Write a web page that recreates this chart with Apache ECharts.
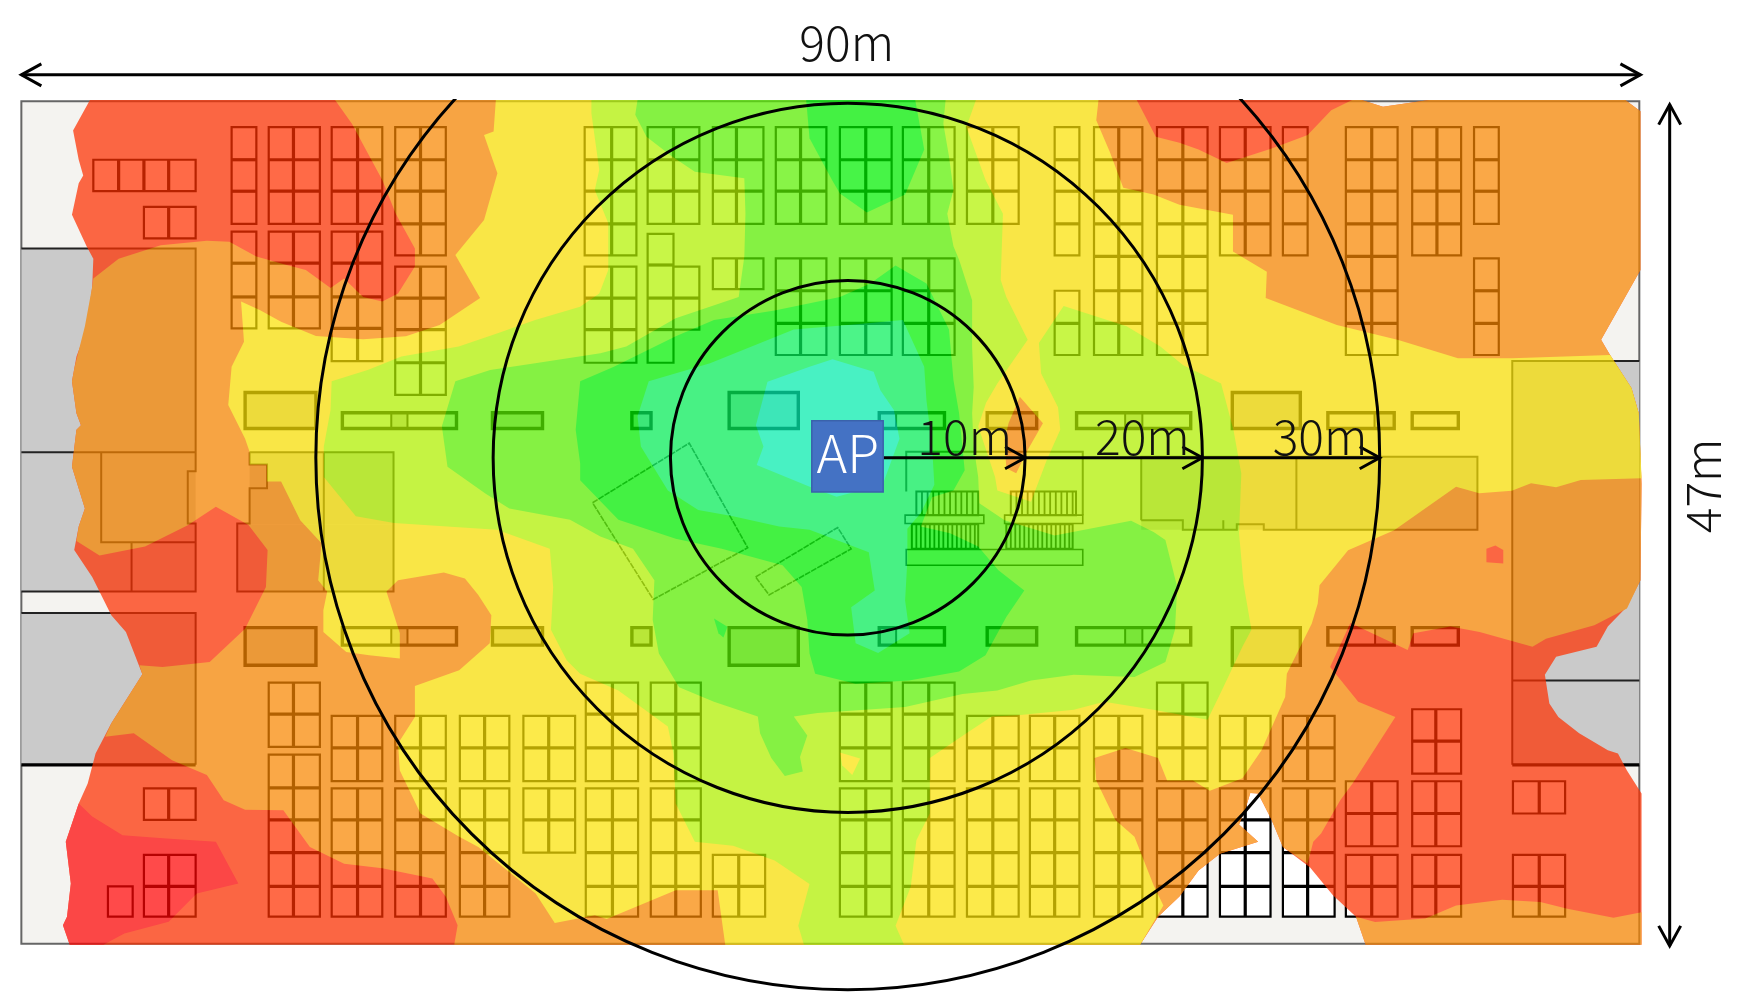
<!DOCTYPE html>
<html><head><meta charset="utf-8">
<style>
html,body{margin:0;padding:0;background:#fff}
#c{width:1763px;height:992px}
/* the whole survey heat map is one layer, seen through at 72% over the floor plan */
canvas[data-zr-dom-id="zr_1"]{opacity:.72}
</style>
<script src="https://cdn.jsdelivr.net/npm/echarts@6/dist/echarts.min.js"></script>
</head><body><div id="c"></div>
<script>
// All positions are plan units on the two hidden value axes (about 15.8 units = 1 m).
const apPoint = [754, 407];
const unitsPerMetre = 15.77;
const ringMetres = [10, 20, 30];

// ---- signal contours ----
const heatHull = [[80,89],[65,116],[70,142],[74,156],[70,163],[64,191],[77,219],[83,230],[82,255],[77,293],[68,317],[64,339],[68,367.5],[72,378],[68,382],[64,415],[75.5,452],[70,468],[66,489],[82,513],[99,547],[112,562],[126.6,599.4],[99,643],[85,670],[78,696.6],[70,714.5],[58.5,748.5],[63,785.6],[59.6,815],[56,822.6],[62,840],[1014,840],[1030,815],[1049,797],[1066,774],[1085,759],[1119,748.5],[1102,733],[1107.5,720],[1112,705],[1119,705.5],[1131,729],[1141,753],[1165,771],[1185.5,796],[1206,815],[1214.6,840],[1460,840],[1460,705.6],[1447,685],[1439,670],[1430,667],[1404.5,652],[1386,637.4],[1378,625.5],[1374,600],[1384,584],[1420,575],[1430,557],[1447,539.5],[1459,516],[1460,430],[1457.5,367.5],[1451,345],[1432,315.6],[1424,302],[1459,240],[1459,99],[1445.5,89],[1271,89],[1230,95],[1211,89]];
const heatDeepRed = [[70,714.5],[82,726],[109,742.6],[148,745.6],[192,748.5],[212,785.6],[175,794.5],[150,819.6],[110.6,830],[92,840],[62,840],[56,822.6],[59.6,815],[63,785.6],[58.5,748.5]];
const heatOrange = [[298,89],[313,110],[327,136],[340,160],[352,190],[369,221],[369,237],[354,261],[340,268],[323,264],[306,247.5],[294,256],[272,240],[255,235.6],[228,228],[204,215],[184,214],[143,218],[105.5,230],[83,247.5],[82,255],[75.5,290],[66.4,326],[64,339],[68,367.5],[72,378],[68,382],[64,415],[75.5,452],[70,468],[68,481],[88.5,494],[129,486],[167,467],[192,450.5],[221,466.7],[238,489],[236.5,522],[218,559],[186.5,588.5],[144.6,593],[124,591.5],[126.6,599.4],[99,643],[93.6,655],[119,652],[153,676],[184,689],[199,711.5],[218,720],[252,720.4],[275.6,753],[306,768],[340,772],[384.5,781],[396.5,797.4],[407,822.6],[404,840],[1014,840],[1030,815],[1049,797],[1066,774],[1085,759],[1119,748.5],[1102,733],[1107.5,720],[1112,705],[1119,705.5],[1131,729],[1141,753],[1163,768],[1168,748.5],[1175,741],[1192,711.5],[1203,696.6],[1241,637.4],[1208,624],[1183,593],[1201,554],[1252,578],[1257,563],[1290,557],[1316,562],[1363,575],[1375,568],[1418,556],[1447,541],[1459,516],[1460,430],[1457.5,367.5],[1451,345],[1432,315.6],[1424,302],[1459,240],[1459,99],[1445.5,89],[1271,89],[1230,95],[1211,89],[1202.6,89],[1184,98],[1163,120],[1131,132],[1091,145],[1066,133],[1049,127],[1028,121.5],[1011,89]];
const heatOrangeStrip = [[1206,815],[1223,819.7],[1267.6,816.7],[1295,805],[1336,800],[1370,802],[1394,808],[1435,816],[1460,811],[1460,840],[1214.6,840]];
const heatRedSpot = [[1322,488],[1330,485],[1337,489],[1337,501],[1322,500]];
const heatYellow = [[441,89],[439,117],[430.5,120],[442.4,154],[430.5,195.6],[405,226.7],[427,265],[391,289],[361,299],[323,301.7],[281,298.7],[250,286],[231,275.6],[214.4,268],[217,303.8],[206,326],[203,360],[218,390],[222,401.6],[222,413],[237.5,413],[237.5,428],[250,428],[267,462.5],[286,483],[283,516],[291,526],[287.6,542.5],[287.6,561.8],[308,579.6],[328.4,582.5],[355.6,585.5],[355.6,563],[343.7,526],[354,516],[394.7,509],[413.5,514.4],[425.4,529],[437,547],[435.6,572],[408.4,596],[369,610],[369,637.4],[354,661],[355.6,685],[374,723.3],[408.4,744],[425.4,753],[476.4,794.5],[493.4,820.6],[529,813.7],[539.6,817],[601,791.5],[638.3,791.5],[645,840],[1014,840],[1034.7,805],[1026,787],[1009,744],[992,729],[975,694],[973.5,674],[1001,665],[1030,674],[1038,694],[1061,694],[1076,703],[1105,692],[1122,667],[1143,619.6],[1144.5,599],[1166.7,554.4],[1172,536.6],[1173.6,520.3],[1199,489.2],[1240,471.4],[1295,432.7],[1315.6,438.6],[1344.6,436.3],[1361.7,429.7],[1384,433.3],[1406,426.8],[1460,425.3],[1457.5,367.5],[1451,345],[1432,315.6],[1344.6,318.6],[1296.7,318.6],[1243.7,302.3],[1189,289],[1125.7,265],[1126.7,241.5],[1096.6,223.7],[1096.6,191],[1049,182],[1026,173],[999,167],[987,135],[975,107],[977,89]];
const heatOrangeLobe = [[907,352.7],[927.6,376.4],[914,400],[903.8,420.8],[895,416.4],[893.5,391],[897,376.4]];
const heatYellowGreen = [[526,89],[526,101],[533,151],[529,169],[541,198.5],[541,240],[533,261],[516,272.7],[476,284.5],[442,296.4],[408,308],[357,317],[327,329],[295,339],[294,364.5],[288,397],[288,424],[316.5,459],[350.5,465],[442,471],[489,488],[492,522],[490,560],[504,587],[516,599],[550,614],[594,646],[599,670],[601,714.5],[618,748.5],[652,752],[689,765],[720,786],[710,823],[715,840],[804,840],[796.5,823],[810,788.5],[815,747],[827,723],[827,674],[859.5,652],[882,637],[905,636],[955,631],[982,624],[1026,631],[1074,640],[1088,611],[1105,575],[1113,560],[1106,519],[1102,474],[1104,421],[1097,382],[1086,341],[1052,324.5],[1032,308],[1002,290],[946,272],[924,305],[926,332],[941,362],[943,382],[931,409],[917,446],[887,436],[885,424],[870,379],[877,358],[887,341],[914,302],[895,264],[890,249],[892,190],[876.5,160],[859.5,113],[868,89]];
const heatYellowPatch = [[747,669],[765,674.4],[758,689],[749,680.3]];
const heatGreen = [[567,89],[565,102],[575,121.5],[597.5,139],[618,152.6],[662,158.5],[663,190],[662,228],[657,264],[601,283],[557,308],[534,314],[476,323],[436,329],[405,339],[393,379],[398,415],[432,439],[453,452],[507,462],[534,477],[563,488],[582,516],[580.5,551],[586,581],[604,611],[635,624],[674,637],[676,652],[686,674],[698,690],[714,686],[711.5,673],[718,654],[706,637],[727,634],[805,628.5],[856,617],[887,614],[917,605],[955,600],[1009,602],[1036.5,588.5],[1045,560],[1047,522],[1036.5,480],[1026,473],[1006,463],[938,476],[893.5,462.5],[871,447.5],[870,424],[866,397],[864.6,367.5],[866,344],[864.6,308],[864.6,267],[853,231],[848,219],[842.5,190],[848,169],[844,139],[839,110],[841,89]];
const heatBrightTop = [[717,89],[720,123],[740,160],[747,172],[771,189],[805,173],[822,133],[814,89]];
const heatBright = [[516,339],[512,382],[516,412],[516,427],[550,462],[601,479],[642,488],[696,502.5],[713,522],[718,551],[720,581],[725,599],[761,608],[808.5,605],[853,597],[876.5,582.5],[895,548.5],[911,525],[888,507],[870,486],[845,474],[819,468],[829,442],[848,436],[858,418],[853,367.5],[848,338],[844,293],[824,252],[796.5,236],[774,252],[747,264],[689,276],[635,284.5],[601,299],[546,326]];
const heatBrightSpot = [[635,550],[647,557.3],[643.4,566.8],[639,563]];
const heatTeal = [[577,339],[567,370],[570,397],[594,436],[621,453.5],[652,459],[693,468],[720,471],[772.7,491],[778,525],[757,540],[761,572],[781,580.5],[809,563],[805,534],[807,498],[807,470],[819,456],[831,431],[829,397],[824,356],[822,326],[803,284.5],[754,289],[706,293],[631.5,323]];
const heatCyan = [[740.4,319.5],[777,330.5],[783,347],[795,364.5],[800,390],[785,431],[744,441.6],[723.4,434],[673,413.4],[679,397],[672.3,378],[682.6,339.3],[720,326]];

const heatLayers = [heatHull,heatDeepRed,heatOrange,heatOrangeStrip,heatRedSpot,heatYellow,heatOrangeLobe,heatYellowGreen,heatYellowPatch,heatGreen,heatBrightTop,heatBright,heatBrightSpot,heatTeal,heatCyan];
const heatColours = ['#ff3000','#ff0404','#f98600','#f98600','#ff3000','#fbe204','#f98600','#b3f300','#fbe204','#5af100','#00f100','#00f100','#00f100','#06f15a','#06f1b2'];

// ---- floor plan ----
const planRect = [19,90,1458,839];
const greyRooms = [[19,221,174,526],[19,545,174,680],[222,402,350,466],[211,466,350,526],[1345,321,1458,680],[1015,406,1314,471],
 [218,349,281,381],[648.5,349,710,381],[1096,349,1156.5,381],[438,367,482.5,381],[562,367,579,381],[348,367,362.4,381],[1000.7,367,1016,381],[1222.5,367,1240,381],[878,367,922,381],[782,367,797,381],
 [218,558,281,591.5],[648.5,558,710,591.5],[1096,558,1156.5,591.5],[438,558,482.5,573.6],[562,558,579,573.6],[348,558,362.4,573.6],[1000.7,558,1016,573.6],[1223,558,1240,573.6],[878,558,922,573.6],[782,558,797,573.6]];
const roomLines = [
 [[19,221],[174,221],[174,419],[167,419],[167,465.5],[174,465.5],[174,526],[19,526]],
 [[19,402],[174,402]],[[90,402],[90,482],[174,482]],[[117,482],[117,526]],
 [[19,545],[174,545],[174,680]],
 [[222,402],[350,402],[350,526],[211,526],[211,465.5],[222,465.5],[222,434],[237.5,434],[237.5,413],[222,413],[222,402]],[[288,402],[288,526]],
 [[1458,321],[1345,321],[1345,680]],[[1345,605],[1458,605]],
 [[1015,462.5],[1015,406],[1314,406],[1314,471],[1124,471],[1124,466],[1100,466],[1100,471],[1088,471],[1088,462.5],[1088,471],[1052,471],[1052,462.5],[1015,462.5]],[[1153,406],[1153,471]],
 [[806,437],[806,401.6],[963,401.6],[963,458]]
];
const heavyLines = [[[19,680],[174,680]],[[1345,680],[1458,680]]];
const tiltedRooms = [[[527,447],[613,394],[665,487],[581,533],[527,447]],[[672,513],[745,469],[757,488],[684,529],[672,513]]];

const rowsA = [113,142,170,199];
const rowsB = [113,142,170,199,227];
const rowsC = [229.7,258.5,287.5,315.6];
const rowsD = [113,142,170,199,228,258.5,287.5,315.6];
const rowsE = [607,635,665,694.5];
const rowsF = [701,729,758,788,815];
const rowsG = [636.5,665,694.5];
const shelfBlocks = [
 [[83,105.5,128,150,174],[142,170]],[[128,150,174],[184,212]],
 [[206,228],rowsA],[[239,261,284.5],rowsA],[[295,318,340],rowsA],[[351.5,374,396.5],rowsB],
 [[206,228],[206,234,264,292]],[[239,261,284.5],[206,234,264,292]],[[295,318,340],[206,234,264,292,321]],[[351.5,374,396.5],[237,265,293,322.5,351]],
 [[520,544,566],rowsB],[[520,544,566],[237,265,293,322.5]],
 [[576,599,622],rowsA],[[576,599],[208,235.6,265,293,322.5]],[[599,622],[237,265,293]],
 [[634,655,679],rowsA],[[634,655,679],[229.7,257]],
 [[690,712,735],rowsA],[[690,712,735],rowsC],[[747,770,793],rowsA],[[747,770,793],rowsC],[[803,826,849],rowsA],[[803,826,849],rowsC],
 [[860,883,906],rowsA],[[938,960],rowsB],[[938,960],[258.5,287.5,315.6]],
 [[973,995,1016],rowsD],[[1029,1052,1074],rowsD],[[1085,1107.5,1130],rowsB],[[1141,1163],rowsB],
 [[1197,1220,1243],rowsD],[[1256,1278,1299.5],rowsB],[[1311,1333],rowsA],[[1311,1333],rowsC],
 [[239,261,284.5],[607,635,664]],[[239,261,284.5],[671,700.5,729,758,788,815]],
 [[295,318,340],rowsG],[[295,318,340],rowsF],[[351.5,374,396.5],rowsG],[[351.5,374,396.5],rowsF],
 [[409,431,453],rowsG],[[409,431,453],rowsF],[[465.5,488,511.5],rowsG],[[465.5,488,511.5],[701,729,758]],
 [[521,544.7,567.5],rowsE],[[521,544.7,567.5],rowsF],[[578.8,601,623.3],rowsE],[[578.8,601,623.3],rowsF],
 [[634,657,680.5],[760,788,815]],
 [[747,770,793],rowsE],[[747,770,793],rowsF],[[803,826,849],rowsE],[[803,826,849],rowsF],
 [[860,883,906],rowsG],[[860,883,906],rowsF],[[916,938,960],rowsG],[[916,938,960],rowsF],[[973,995,1016],rowsG],[[973,995,1016],rowsF],
 [[1029,1052,1074],rowsE],[[1029,1052,1074],rowsF],[[1085,1107.5,1130],rowsG],[[1085,1107.5,1130],rowsF],[[1141,1163,1187],rowsG],[[1141,1163,1187],rowsF],
 [[1197,1220,1243],[694.6,723.3,752.4]],[[1197,1220,1243],[760,788,815]],
 [[1256,1277,1299.5],[630.6,659,687.8]],[[1256,1277,1299.5],[694.6,723.3,752.4]],[[1256,1277,1299.5],[760,788,815]],
 [[1345.6,1369,1392],[694.6,723.3]],[[1345.6,1369,1392],[760,788,815]],
 [[128,150,174],[701,729]],[[128,150,174],[760,788,815]],[[96,118],[788,815]]
];
const counterBlocks = [
 [[218,281],[349,381]],[[304.5,348,362.4,406],[367,381]],[[438,482.5],[367,381]],[[562,579],[367,381]],[[648.5,710],[349,381]],[[782,797,840],[367,381]],[[878,922],[367,381]],[[957.5,1000.7,1016,1059],[367,381]],[[1096,1156.5],[349,381]],[[1181,1222.5,1240],[367,381]],[[1256,1297],[367,381]],
 [[218,281],[558,591.5]],[[304.5,348,362.4,406],[558,573.6]],[[438,482.5],[558,573.6]],[[562,579],[558,573.6]],[[648.5,710],[558,591.5]],[[782,797,840],[558,573.6]],[[878,922],[558,573.6]],[[957.5,1000.7,1016,1059],[558,573.6]],[[1096,1156.5],[558,591.5]],[[1181,1223,1240],[558,573.6]],[[1256,1297],[558,573.6]]
];
const benchBlocks = [[[805,875],[458,465.4]],[[893.5,963],[458,465.4]],[[806,963],[488.5,502.5]]];
const rackBlocks = [
 [[815,820,825,830,835,840,845,850,855,860,865,870],[437,458]],
 [[899,904,909,914,919,924,929,934,939,944,949,954,957],[437,458]],
 [[811,815,819,823,827,831,835,839,843,847,851,855,859,863,867,870],[466,488]],
 [[895,899,903,907,911,915,919,923,927,931,935,939,943,947,951,954],[466,488]]
];

// ---- annotations ----
const dimensionLines = [[[19,66.5],[1459,66.5],1],[[1485,93],[1485,841],1]];
const radialLine = [[785,407],[1227,407]];
const radialArrowheads = [10,20,30];
const apBox = [722,374,785.5,437.5];
const labelTexts = ['90m','10m','20m','30m','47m','AP'];
const labelPoints = [[753,38],[858,388],[1016,388],[1174,388],[1514,432],[754,403]];
const labelTurns = [0,0,0,0,90,0];
const labelColours = ['#111','#111','#111','#111','#111','#fff'];
const labelSizes = [48,48,48,48,48,52];

const FONT = '"Noto Sans CJK JP","Noto Sans",sans-serif';
const idx = a => a.map((_, i) => [i]);
const pts = (api, arr) => arr.map(p => api.coord([p[0], p[1]]));

function gridShape(api, xs, ys, lw, fill, inner) {
  const children = [];
  const tl = api.coord([xs[0], ys[0]]), br = api.coord([xs[xs.length-1], ys[ys.length-1]]);
  children.push({type:'rect', shape:{x:tl[0],y:tl[1],width:br[0]-tl[0],height:br[1]-tl[1]},
    style:{fill:fill, stroke:'#000', lineWidth:lw}});
  xs.slice(1,-1).forEach(x => { const a=api.coord([x,ys[0]]), b=api.coord([x,ys[ys.length-1]]);
    children.push({type:'line', shape:{x1:a[0],y1:a[1],x2:b[0],y2:b[1]}, style:{stroke:'#000', lineWidth:inner}}); });
  ys.slice(1,-1).forEach(y => { const a=api.coord([xs[0],y]), b=api.coord([xs[xs.length-1],y]);
    children.push({type:'line', shape:{x1:a[0],y1:a[1],x2:b[0],y2:b[1]}, style:{stroke:'#000', lineWidth:inner}}); });
  return {type:'group', children};
}
function chevron(api, tip, dirX, dirY) {
  const L = 20, W = 11;
  const t = api.coord(tip);
  return {type:'polyline', shape:{points:[[t[0]-dirX*L+dirY*W, t[1]-dirY*L-dirX*W],[t[0],t[1]],[t[0]-dirX*L-dirY*W, t[1]-dirY*L+dirX*W]]},
    style:{fill:'none', stroke:'#000', lineWidth:3}};
}

const customBase = {type:'custom', coordinateSystem:'cartesian2d', silent:true, animation:false};
const option = {
  animation:false,
  grid:{left:0, right:0, top:99, bottom:0},
  xAxis:{type:'value', min:0, max:1568, show:false},
  yAxis:{type:'value', min:88, max:882, inverse:true, show:false},
  series:[
    // floor plan, underneath the heat layer
    {...customBase, zlevel:0, z:1, data:[[0]], renderItem:(p,api)=>{
      const a=api.coord([planRect[0],planRect[1]]), b=api.coord([planRect[2],planRect[3]]);
      return {type:'rect', shape:{x:a[0],y:a[1],width:b[0]-a[0],height:b[1]-a[1]}, style:{fill:'#f4f3f0', stroke:'#666', lineWidth:2}};
    }},
    {...customBase, zlevel:0, z:2, data:idx(greyRooms), renderItem:(p,api)=>{
      const r=greyRooms[p.dataIndex], a=api.coord([r[0],r[1]]), b=api.coord([r[2],r[3]]);
      return {type:'rect', shape:{x:a[0],y:a[1],width:b[0]-a[0],height:b[1]-a[1]}, style:{fill:'#cacaca'}};
    }},
    {...customBase, zlevel:0, z:3, data:idx(roomLines), renderItem:(p,api)=>({type:'polyline', shape:{points:pts(api,roomLines[p.dataIndex])}, style:{fill:'none', stroke:'#222', lineWidth:2}})},
    {...customBase, zlevel:0, z:3, data:idx(heavyLines), renderItem:(p,api)=>({type:'polyline', shape:{points:pts(api,heavyLines[p.dataIndex])}, style:{fill:'none', stroke:'#000', lineWidth:3.2}})},
    {...customBase, zlevel:0, z:3, data:idx(tiltedRooms), renderItem:(p,api)=>({type:'polyline', shape:{points:pts(api,tiltedRooms[p.dataIndex])}, style:{fill:'none', stroke:'rgba(0,0,0,.75)', lineWidth:1.6, lineDash:[6,1]}})},
    {...customBase, zlevel:0, z:4, data:idx(shelfBlocks), renderItem:(p,api)=>gridShape(api, shelfBlocks[p.dataIndex][0], shelfBlocks[p.dataIndex][1], 2.2, '#fff', 3.2)},
    {...customBase, zlevel:0, z:4, data:idx(counterBlocks), renderItem:(p,api)=>gridShape(api, counterBlocks[p.dataIndex][0], counterBlocks[p.dataIndex][1], 3.4, 'rgba(0,0,0,0)', 2)},
    {...customBase, zlevel:0, z:4, data:idx(benchBlocks), renderItem:(p,api)=>gridShape(api, benchBlocks[p.dataIndex][0], benchBlocks[p.dataIndex][1], 1.6, 'rgba(0,0,0,0)', 1.6)},
    {...customBase, zlevel:0, z:4, data:idx(rackBlocks), renderItem:(p,api)=>gridShape(api, rackBlocks[p.dataIndex][0], rackBlocks[p.dataIndex][1], 2, 'rgba(0,0,0,0)', 1.8)},
    // signal heat map: opaque nested contours on their own layer
    {...customBase, zlevel:1, z:1, data:idx(heatLayers), renderItem:(p,api)=>({type:'polygon', shape:{points:pts(api,heatLayers[p.dataIndex])}, style:{fill:heatColours[p.dataIndex]}})},
    // range rings, clipped by the grid at the top of the plan
    {...customBase, zlevel:2, z:1, clip:true, data:idx(ringMetres), renderItem:(p,api)=>{
      const c=api.coord(apPoint), r=api.size([ringMetres[p.dataIndex]*unitsPerMetre,0])[0];
      return {type:'circle', shape:{cx:c[0],cy:c[1],r}, style:{fill:'none', stroke:'#000', lineWidth:3}};
    }},
    // dimension arrows
    {...customBase, zlevel:2, z:2, data:idx(dimensionLines), renderItem:(p,api)=>{
      const d=dimensionLines[p.dataIndex], a=api.coord(d[0]), b=api.coord(d[1]);
      const ux=Math.sign(d[1][0]-d[0][0]), uy=Math.sign(d[1][1]-d[0][1]);
      return {type:'group', children:[
        {type:'line', shape:{x1:a[0],y1:a[1],x2:b[0],y2:b[1]}, style:{stroke:'#000', lineWidth:3}},
        chevron(api,d[1],ux,uy), chevron(api,d[0],-ux,-uy)]};
    }},
    {...customBase, zlevel:2, z:2, data:[[0]], renderItem:(p,api)=>{
      const a=api.coord(radialLine[0]), b=api.coord(radialLine[1]);
      return {type:'group', children:[{type:'line', shape:{x1:a[0],y1:a[1],x2:b[0],y2:b[1]}, style:{stroke:'#000', lineWidth:3}}]
        .concat(radialArrowheads.map(m=>chevron(api,[apPoint[0]+m*unitsPerMetre,apPoint[1]],1,0)))};
    }},
    // AP marker
    {...customBase, zlevel:2, z:3, data:[[0]], renderItem:(p,api)=>{
      const a=api.coord([apBox[0],apBox[1]]), b=api.coord([apBox[2],apBox[3]]);
      return {type:'rect', shape:{x:a[0],y:a[1],width:b[0]-a[0],height:b[1]-a[1]}, style:{fill:'#4472c4', stroke:'#3a62ab', lineWidth:1.5}};
    }},
    // labels
    {...customBase, zlevel:2, z:4, data:idx(labelTexts), renderItem:(p,api)=>{
      const i=p.dataIndex, c=api.coord(labelPoints[i]);
      return {type:'text', x:c[0], y:c[1], rotation:labelTurns[i]*Math.PI/180,
        style:{text:labelTexts[i], fill:labelColours[i], font:'300 '+labelSizes[i]+'px '+FONT, align:'center', verticalAlign:'middle'}};
    }}
  ]
};
const chart = echarts.init(document.getElementById('c'), null, {renderer:'canvas', width:1763, height:992});
chart.setOption(option);
</script></body></html>
